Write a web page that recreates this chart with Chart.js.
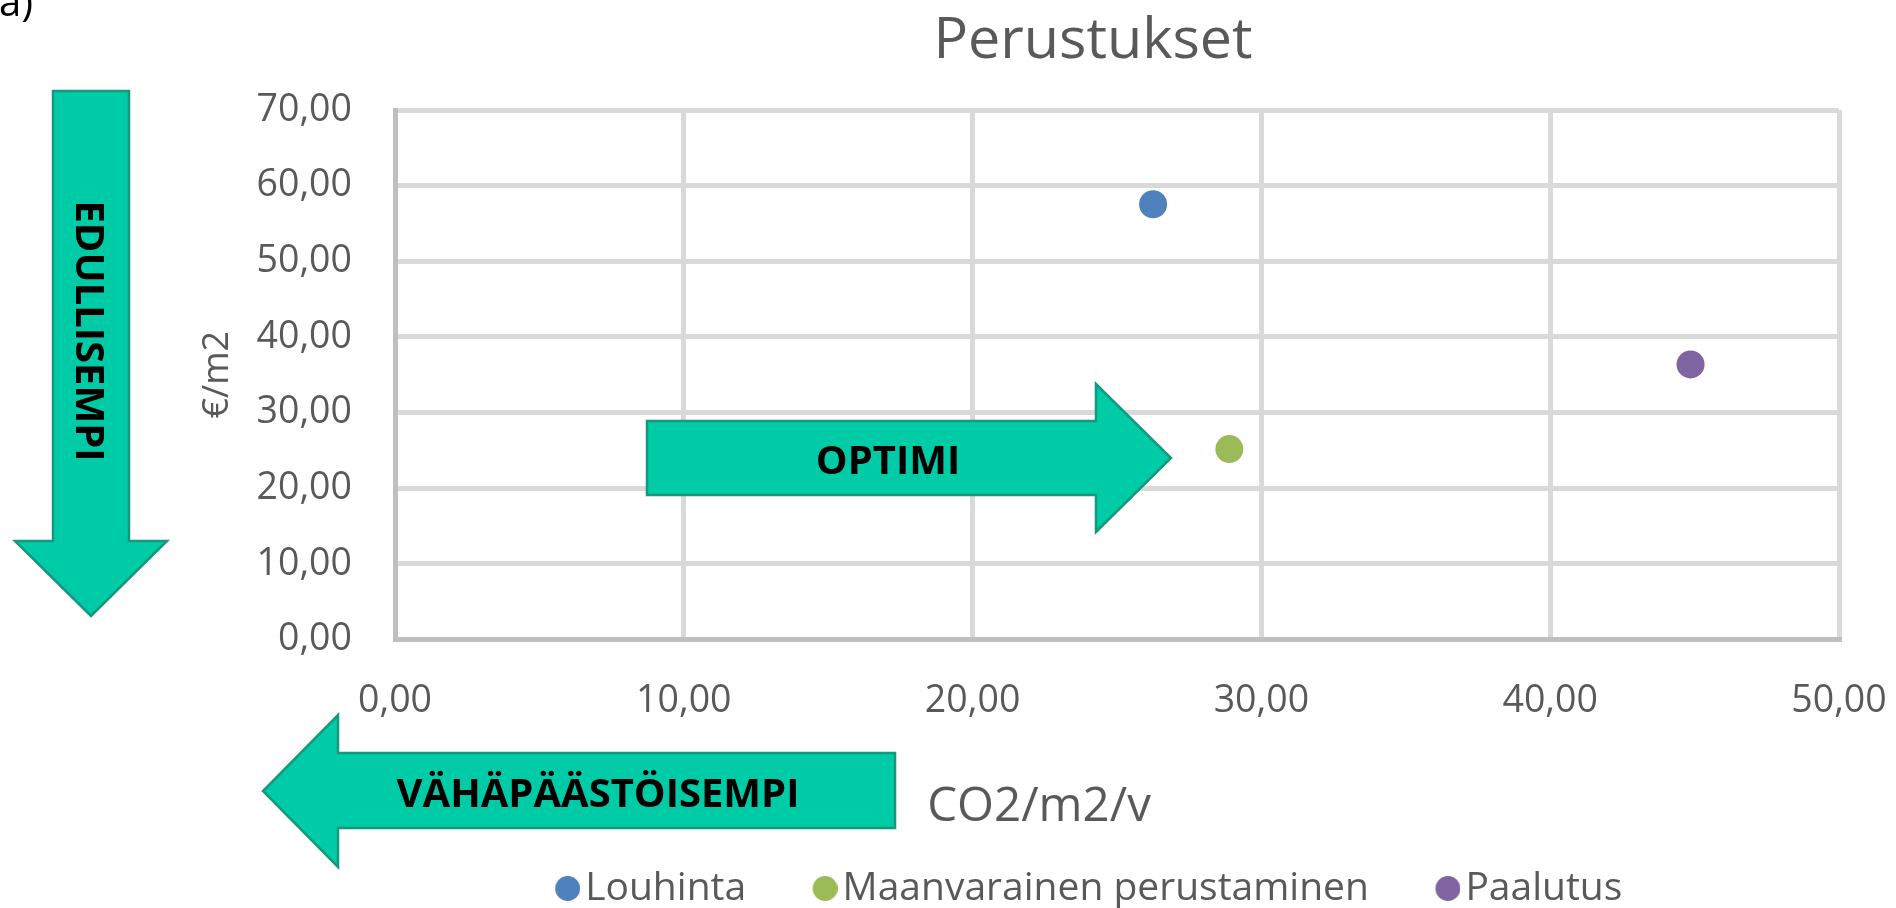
<!DOCTYPE html>
<html><head><meta charset="utf-8">
<script src="https://cdn.jsdelivr.net/npm/chart.js@4/dist/chart.umd.min.js"></script>
<style>html,body{margin:0;padding:0;background:#fff;overflow:hidden}canvas{display:block}</style>
</head><body>
<canvas id="c" width="1896" height="908"></canvas>
<script>
const chartTitle = 'Perustukset';
const xAxisTitle = 'CO2/m2/v';
const yAxisTitle = '€/m2';
const seriesNames = ['Louhinta', 'Maanvarainen perustaminen', 'Paalutus'];
const co2Values = [26.25, 28.89, 44.86];
const costValues = [57.54, 25.17, 36.37];
const xTickLabels = ['0,00', '10,00', '20,00', '30,00', '40,00', '50,00'];
const yTickLabels = ['0,00', '10,00', '20,00', '30,00', '40,00', '50,00', '60,00', '70,00'];
const arrowLabels = ['EDULLISEMPI', 'OPTIMI', 'VÄHÄPÄÄSTÖISEMPI'];
const panelLabel = 'a)';
const seriesColors = ['#4F81BD', '#9BBB59', '#8064A2'];

const FONT = "'Open Sans', 'DejaVu Sans', sans-serif";
const TEXT = '#595959';
const CLEAR = 'rgba(0,0,0,0)';

const datasets = seriesNames.map((name, i) => ({
  label: name,
  data: [{x: co2Values[i], y: costValues[i]}],
  backgroundColor: seriesColors[i],
  borderColor: seriesColors[i],
  borderWidth: 0,
  pointRadius: 14,
  pointHoverRadius: 14
}));

function legendMarker(color) {
  const r = 12.5, off = 3;
  const c = document.createElement('canvas');
  c.width = Math.ceil(2 * (r + off));
  c.height = Math.ceil(2 * r);
  const g = c.getContext('2d');
  g.fillStyle = color;
  g.beginPath();
  g.arc(c.width / 2 + off, c.height / 2, r, 0, Math.PI * 2);
  g.fill();
  return c;
}

const overlay = {
  id: 'overlay',
  afterDraw(chart) {
    const ctx = chart.ctx;
    ctx.save();
    const shapes = [
      [[53,91],[129,91],[129,541],[167,541],[91,616],[15,541],[53,541]],
      [[647,421],[1096,421],[1096,384],[1171,458],[1096,532],[1096,495],[647,495]],
      [[895,753],[338,753],[338,715],[263,791],[338,867],[338,828],[895,828]]
    ];
    ctx.fillStyle = '#00CBA7';
    ctx.strokeStyle = '#14987E';
    ctx.lineWidth = 2.5;
    ctx.lineJoin = 'miter';
    shapes.forEach(pts => {
      ctx.beginPath();
      pts.forEach((p, k) => k ? ctx.lineTo(p[0], p[1]) : ctx.moveTo(p[0], p[1]));
      ctx.closePath();
      ctx.fill();
      ctx.stroke();
    });
    ctx.fillStyle = '#000';
    ctx.font = "bold 40px " + FONT;
    ctx.textAlign = 'center';
    ctx.textBaseline = 'alphabetic';
    ctx.fillText(arrowLabels[1], 888, 473.5);
    ctx.fillText(arrowLabels[2], 598, 806.5);
    ctx.save();
    ctx.translate(90.5, 331);
    ctx.rotate(Math.PI / 2);
    ctx.fillText(arrowLabels[0], 0, 14.3);
    ctx.restore();
    // x axis title
    ctx.fillStyle = TEXT;
    ctx.font = "47.5px " + FONT;
    ctx.fillText(xAxisTitle, 1039, 821);
    // panel label
    ctx.fillStyle = '#000';
    ctx.font = "40px " + FONT;
    ctx.textAlign = 'left';
    ctx.fillText(panelLabel, -1, 16);
    ctx.restore();
  }
};

const LEG_PAD = 75;
const LEG_FONT = 39;
new Chart(document.getElementById('c'), {
  type: 'scatter',
  data: { datasets },
  plugins: [overlay],
  options: {
    responsive: false,
    animation: false,
    devicePixelRatio: 1,
    layout: { padding: { left: 200, right: -90, top: 0, bottom: 0 } },
    plugins: {
      tooltip: { enabled: false },
      title: {
        display: true, text: chartTitle, color: TEXT,
        font: { family: FONT, size: 57.5, weight: 'normal', lineHeight: 1.2 },
        padding: { top: 6.7, bottom: 34.3 }
      },
      legend: {
        position: 'bottom',
        maxHeight: LEG_FONT + LEG_PAD,
        labels: {
          usePointStyle: true,
          boxWidth: 2, boxHeight: 18,
          padding: LEG_PAD, color: TEXT,
          font: { family: FONT, size: LEG_FONT },
          generateLabels(chart) {
            return Chart.defaults.plugins.legend.labels.generateLabels(chart)
              .map((it, i) => Object.assign(it, { pointStyle: legendMarker(seriesColors[i]) }));
          }
        }
      }
    },
    scales: {
      x: {
        type: 'linear', min: 0, max: 50,
        afterFit(s) { s.height = 908 - (LEG_FONT + LEG_PAD) - 639.5; },
        ticks: {
          stepSize: 10, padding: 0, color: TEXT,
          font: { family: FONT, size: 37.5 },
          callback: (v, i) => xTickLabels[i]
        },
        grid: {
          drawTicks: true, tickLength: 39, tickColor: CLEAR, lineWidth: 5,
          color: c => c.index === 0 ? '#BFBFBF' : '#D9D9D9'
        },
        border: { display: true, color: '#BFBFBF', width: 5 }
      },
      y: {
        type: 'linear', min: 0, max: 70,
        afterFit(s) { s.width = 195; },
        title: {
          display: true, text: yAxisTitle, color: TEXT,
          font: { family: FONT, size: 36, lineHeight: 1.2 },
          padding: { top: -3.8, bottom: 0 }
        },
        ticks: {
          stepSize: 10, padding: 0, color: TEXT,
          font: { family: FONT, size: 37.5 },
          callback: (v, i) => yTickLabels[i]
        },
        grid: {
          drawTicks: true, tickLength: 43, tickColor: CLEAR, lineWidth: 5,
          color: c => c.index === 0 ? '#BFBFBF' : '#D9D9D9'
        },
        border: { display: true, color: '#BFBFBF', width: 5 }
      },
      y2: {
        type: 'linear', position: 'right', display: true,
        afterFit(s) { s.width = 147; },
        ticks: { display: false },
        grid: { display: false },
        border: { display: false }
      }
    }
  }
});
</script>
</body></html>
